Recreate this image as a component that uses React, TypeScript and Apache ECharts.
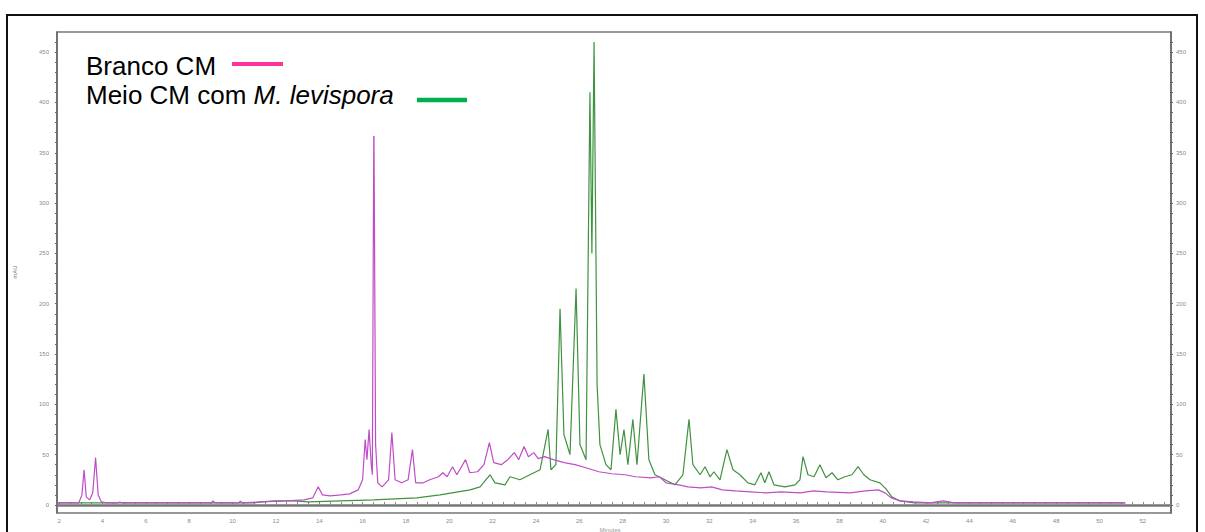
import React, { useEffect, useRef } from "react";
import * as echarts from "echarts";

// Retention times (min) and absorbance (mAU) of the blank CM medium
const TIME_BRANCO = [
  1.91, 2.9, 3.05, 3.15, 3.25, 3.4, 3.55, 3.68, 3.8, 3.95, 4.2, 4.7, 4.8, 4.9,
  9.0, 9.1, 9.2, 10.3, 10.35, 10.45, 11.3, 12.5, 13.3, 13.7, 13.95, 14.15, 14.5,
  15.0, 15.4, 15.8, 16.0, 16.12, 16.2, 16.3, 16.4, 16.45, 16.52, 16.6, 16.7,
  16.9, 17.2, 17.35, 17.5, 17.8, 18.1, 18.3, 18.45, 18.8, 19.1, 19.5, 19.7,
  19.9, 20.15, 20.35, 20.75, 20.95, 21.3, 21.6, 21.85, 22.05, 22.4, 22.7, 23.0,
  23.2, 23.45, 23.65, 23.9, 24.1, 24.4, 24.8, 25.3, 25.8, 26.3, 26.9, 27.5,
  28.1, 28.6, 29.3, 29.7, 30.0, 30.6, 31.0, 31.6, 32.1, 32.6, 33.2, 33.9, 34.6,
  35.3, 36.2, 36.8, 37.4, 38.5, 39.2, 39.8, 40.1, 40.4, 40.8, 41.4, 42.2, 42.8,
  43.3, 51.2,
];
const ABS_BRANCO = [
  2, 2, 10, 35, 8, 5, 12, 47, 10, 3, 2, 2, 3, 2,
  2, 4, 2, 2, 4, 2, 3, 4, 5, 7, 18, 10, 9,
  10, 11, 15, 25, 65, 45, 75, 40, 30, 390, 60, 22,
  18, 25, 72, 25, 22, 25, 55, 22, 22, 25, 28, 32,
  28, 38, 30, 45, 32, 33, 40, 62, 42, 40, 45, 52,
  45, 58, 48, 52, 46, 48, 45, 42, 40, 37, 33, 31,
  30, 28, 27, 28, 22, 20, 18, 17, 18, 15, 14, 13, 12,
  13, 12, 14, 13, 12, 14, 15, 12, 7, 4, 3, 2, 4,
  2, 2,
];

// Retention times (min) and absorbance (mAU) of the CM medium with M. levispora
const TIME_MEIO = [
  1.91, 11.0, 11.3, 12.0, 12.8, 13.5, 15.0, 16.5, 17.5, 18.5, 19.57, 20.96,
  21.42, 21.88, 22.11, 22.57, 22.8, 23.26, 23.72, 24.19, 24.56, 24.69, 24.92,
  25.11, 25.29, 25.57, 25.85, 26.03, 26.31, 26.49, 26.58, 26.68, 26.82, 26.95,
  27.23, 27.46, 27.69, 27.88, 28.06, 28.24, 28.47, 28.66, 28.98, 29.21, 29.49,
  29.95, 30.41, 30.78, 31.06, 31.24, 31.57, 31.8, 32.03, 32.21, 32.49, 32.81,
  33.09, 33.41, 33.78, 34.1, 34.38, 34.56, 34.75, 34.98, 35.49, 35.95, 36.18,
  36.32, 36.55, 36.83, 37.1, 37.38, 37.66, 37.93, 38.25, 38.58, 38.86, 39.13,
  39.41, 39.87, 40.15, 40.42, 40.79, 41.48, 51.17,
];
const ABS_MEIO = [
  2, 2, 3, 4, 4, 3, 4, 5, 6, 7, 10, 15,
  18, 30, 22, 20, 28, 25, 30, 35, 75, 35, 40,
  195, 70, 50, 215, 60, 45, 410, 250, 460, 120, 60,
  40, 35, 95, 50, 75, 40, 85, 40, 130, 45, 30,
  25, 20, 30, 85, 40, 30, 38, 28, 33, 25, 55,
  35, 30, 22, 20, 32, 22, 33, 20, 18, 20, 25,
  48, 30, 28, 40, 27, 32, 25, 28, 30, 38, 30,
  25, 22, 16, 8, 4, 2, 2,
];

// Axis labels
const TIME_LABELS = Array.from({ length: 26 }, (_, i) => 2 + i * 2);
const TIME_TICKS = Array.from({ length: 103 }, (_, i) => 2 + i * 0.5);
const ABS_LABELS = [0, 50, 100, 150, 200, 250, 300, 350, 400, 450];
const ABS_TICKS = Array.from({ length: 47 }, (_, i) => i * 10);

const SERIES_NAMES = ["Branco CM", "Meio CM com M. levispora"];

const zip = (xs: number[], ys: number[]) => xs.map((x, i) => [x, ys[i]]);

const FONT = '"Liberation Sans", Arial, sans-serif';

export default function App() {
  const ref = useRef<HTMLDivElement>(null);

  useEffect(() => {
    if (!ref.current) return;
    const chart = echarts.init(ref.current, undefined, { renderer: "svg" });

    const axisLabel = { fontSize: 6, color: "#8a8a8a", fontFamily: FONT };

    const yAxisBase = {
      type: "value" as const,
      min: -8,
      max: 470,
      splitLine: { show: false },
      axisLine: { show: true, lineStyle: { color: "#666", width: 1.5 } },
      axisTick: {
        show: true,
        customValues: ABS_TICKS,
        length: 2,
        lineStyle: { color: "#666" },
      },
    };

    chart.setOption({
      animation: false,
      backgroundColor: "#fff",
      grid: {
        left: 57,
        right: 34,
        top: 32,
        bottom: 19,
        containLabel: false,
        outerBoundsMode: "none",
        show: true,
        borderColor: "#777",
        borderWidth: 1.5,
      },
      xAxis: {
        type: "value",
        min: 1.9,
        max: 53.3,
        splitLine: { show: false },
        axisLine: { show: true, lineStyle: { color: "#777", width: 2.5 } },
        axisTick: {
          show: true,
          inside: true,
          customValues: TIME_TICKS,
          length: 3,
          lineStyle: { color: "#888" },
        },
        axisLabel: { ...axisLabel, customValues: TIME_LABELS, margin: 5 },
      },
      yAxis: [
        {
          ...yAxisBase,
          position: "left",
          axisLabel: { ...axisLabel, customValues: ABS_LABELS, margin: 8 },
        },
        {
          ...yAxisBase,
          position: "right",
          axisLabel: { ...axisLabel, customValues: ABS_LABELS, margin: 5 },
        },
      ],
      series: [
        {
          name: SERIES_NAMES[1],
          type: "line",
          data: zip(TIME_MEIO, ABS_MEIO),
          showSymbol: false,
          lineStyle: { color: "#3f923f", width: 1.2 },
          z: 2,
        },
        {
          name: SERIES_NAMES[0],
          type: "line",
          data: zip(TIME_BRANCO, ABS_BRANCO),
          showSymbol: false,
          lineStyle: { color: "#c04cc8", width: 1.2 },
          z: 3,
        },
      ],
      graphic: [
        // outer frame
        {
          type: "rect",
          shape: { x: 7, y: 15, width: 1190, height: 530 },
          style: { fill: "none", stroke: "#111", lineWidth: 2 },
          z: 10,
        },
        // legend panel
        {
          type: "rect",
          shape: { x: 62, y: 35, width: 420, height: 101 },
          style: { fill: "#fff" },
          z: 20,
        },
        {
          type: "text",
          x: 86,
          y: 66,
          style: {
            text: SERIES_NAMES[0],
            font: `26px ${FONT}`,
            fill: "#000",
            verticalAlign: "middle",
          },
          z: 21,
        },
        {
          type: "line",
          shape: { x1: 232, y1: 64, x2: 283, y2: 64 },
          style: { stroke: "#ff3399", lineWidth: 4 },
          z: 21,
        },
        {
          type: "text",
          x: 86,
          y: 95,
          style: {
            text: "{n|Meio CM com }{i|M. levispora}",
            font: `26px ${FONT}`,
            fill: "#000",
            verticalAlign: "middle",
            rich: {
              n: { fontSize: 26, fontFamily: FONT, fill: "#000" },
              i: { fontSize: 26, fontFamily: FONT, fontStyle: "italic", fill: "#000" },
            },
          },
          z: 21,
        },
        {
          type: "line",
          shape: { x1: 417, y1: 100, x2: 467, y2: 100 },
          style: { stroke: "#00b050", lineWidth: 4.5 },
          z: 21,
        },
        // axis titles
        {
          type: "text",
          x: 15,
          y: 272,
          rotation: Math.PI / 2,
          style: {
            text: "mAU",
            font: `6px ${FONT}`,
            fill: "#777",
            align: "center",
            verticalAlign: "middle",
          },
          z: 21,
        },
        {
          type: "text",
          x: 610,
          y: 530,
          style: {
            text: "Minutes",
            font: `6px ${FONT}`,
            fill: "#999",
            align: "center",
            verticalAlign: "middle",
          },
          z: 21,
        },
      ],
    });

    return () => chart.dispose();
  }, []);

  return (
    <div
      ref={ref}
      style={{ position: "fixed", left: 0, top: 0, width: 1205, height: 532 }}
    />
  );
}
